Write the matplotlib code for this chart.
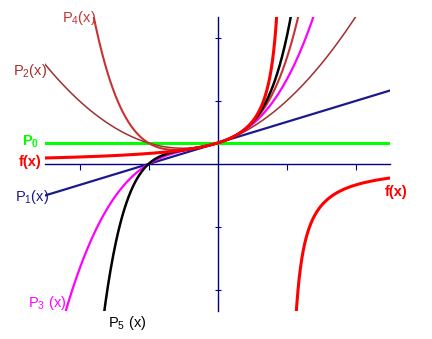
import numpy as np
import matplotlib.pyplot as plt

plt.rcParams['font.family'] = ['Liberation Sans', 'DejaVu Sans']

# Taylor polynomials of f(x) = 1/(1-x) about 0: all coefficients are 1
coeffs = [1, 1, 1, 1, 1, 1]
orders = [0, 1, 2, 3, 4, 5]
colors = ['#00ff00', '#1a1a8c', '#a03030', '#ff00ff', '#c83232', 'black']
widths = [2.2, 1.6, 1.1, 1.6, 1.5, 1.8]
labels = [r'$\mathregular{P_0}$', r'$\mathregular{P_1(x)}$', r'$\mathregular{P_2(x)}$',
          r'$\mathregular{P_3\ (x)}$', r'$\mathregular{P_4(x)}$', r'$\mathregular{P_5\ (x)}$']
label_xy = [(-2.84, 1.05), (-2.94, -1.55), (-2.96, 4.45), (-2.75, -6.6), (-2.26, 6.95), (-1.59, -7.55)]

xmin, xmax = -2.5, 2.5
ymin, ymax = -7, 7
asym = 1.0

def f(x):
    return 1.0 / (1.0 - x)

fig = plt.figure(figsize=(4.32, 3.39), dpi=100)
ax = fig.add_axes([45 / 432, 28 / 339, 345 / 432, 294 / 339])

x = np.linspace(xmin, xmax, 800)
for n, c, w in zip(orders, colors, widths):
    y = np.polyval(coeffs[:n + 1][::-1], x)
    ax.plot(x, y, color=c, lw=w, zorder=2)

xl = np.linspace(xmin, asym - 1e-3, 600)
xr = np.linspace(asym + 1e-3, xmax, 600)
ax.plot(xl, f(xl), color='red', lw=2.2, zorder=3)
ax.plot(xr, f(xr), color='red', lw=2.2, zorder=3)

for lab, c, (tx, ty) in zip(labels, colors, label_xy):
    ax.text(tx, ty, lab, color=c, fontsize=10.5, va='center', ha='left',
            fontweight='bold' if lab == labels[0] else 'normal')
ax.text(-2.88, 0.1, 'f(x)', color='red', fontsize=10.5, va='center', fontweight='bold')
ax.text(2.43, -1.35, 'f(x)', color='red', fontsize=10.5, va='center', fontweight='bold')

ax.set_xlim(xmin, xmax)
ax.set_ylim(ymin, ymax)
for s in ['top', 'right']:
    ax.spines[s].set_visible(False)
for s in ['left', 'bottom']:
    ax.spines[s].set_position('zero')
    ax.spines[s].set_color('#000080')
    ax.spines[s].set_linewidth(1.0)
    ax.spines[s].set_zorder(1)
ax.set_xticks([-2, -1, 1, 2])
ax.set_yticks([-6, -3, 3, 6])
ax.tick_params(axis='x', direction='out', length=4, color='#000080', labelbottom=False)
ax.tick_params(axis='y', direction='inout', length=4, color='#000080', labelleft=False)
ax.patch.set_visible(False)

fig.savefig('out.png', dpi=100)
